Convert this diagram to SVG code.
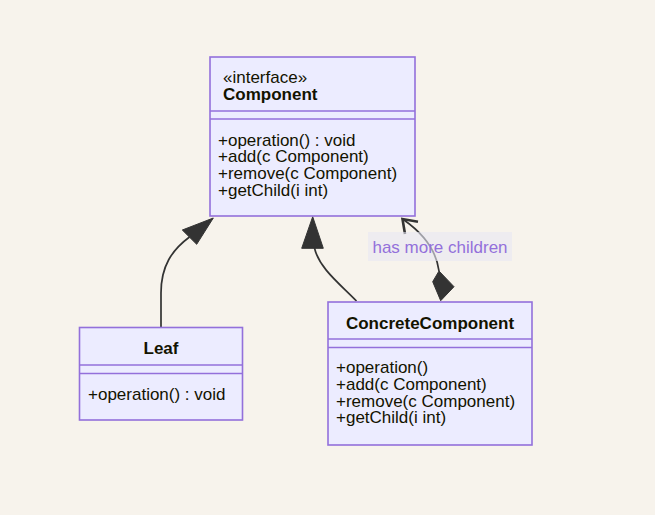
<svg xmlns="http://www.w3.org/2000/svg" width="655" height="515" viewBox="0 0 655 515">
<style>
.box{fill:#ECECFF;stroke:#9370DB;stroke-width:1.6}
.div{stroke:#9370DB;stroke-width:1.6}
text{font-family:"Liberation Sans",Arial,sans-serif;font-size:17px;fill:#131300}
.b{font-weight:bold}
.edge{fill:none;stroke:#333;stroke-width:1.7}
.head{fill:#333;stroke:#333;stroke-width:1}
.lbl{fill:#9370DB;text-anchor:middle}
</style>
<rect width="655" height="515" fill="#F7F3EC"/>
<g id="connectors">
<path class="edge" d="M161,327 L161,293 C161,266 172,250 189.5,237"/>
<polygon class="head" points="213.3,218 182.3,230 196.7,244.3"/>
<path class="edge" d="M356.5,301 C340,284 319,268 314.5,248"/>
<polygon class="head" points="312.7,216.7 301.7,248.3 323.3,248.3"/>
<path class="edge" d="M439,271 C436,248 421,232 404,220"/>
<polyline points="418,221.7 402.5,219 405,234" fill="none" stroke="#333" stroke-width="2.6" stroke-linejoin="miter"/>
<polygon class="head" points="439,271 454,286.7 440.7,300.7 432.7,281.7"/>
<rect x="368" y="232" width="144" height="29" fill="#E8E8F4" opacity="0.6"/>
<text class="lbl" x="440" y="253">has more children</text>
</g>
<g id="Component">
<rect class="box" x="210" y="57" width="205" height="159"/>
<line class="div" x1="210" y1="111" x2="415" y2="111"/>
<line class="div" x1="210" y1="119" x2="415" y2="119"/>
<text x="223" y="83">«interface»</text>
<text class="b" x="223" y="100">Component</text>
<text x="218" y="145.5">+operation() : void</text>
<text x="218" y="162.2">+add(c Component)</text>
<text x="218" y="178.9">+remove(c Component)</text>
<text x="218" y="195.6">+getChild(i int)</text>
</g>
<g id="Leaf">
<rect class="box" x="79.5" y="327.5" width="163" height="92.5"/>
<line class="div" x1="79.5" y1="365" x2="242.5" y2="365"/>
<line class="div" x1="79.5" y1="373.5" x2="242.5" y2="373.5"/>
<text class="b" x="161" y="354" text-anchor="middle">Leaf</text>
<text x="88" y="400">+operation() : void</text>
</g>
<g id="ConcreteComponent">
<rect class="box" x="328" y="302" width="204" height="143"/>
<line class="div" x1="328" y1="339" x2="532" y2="339"/>
<line class="div" x1="328" y1="347.5" x2="532" y2="347.5"/>
<text class="b" x="430" y="329" text-anchor="middle">ConcreteComponent</text>
<text x="336" y="373.3">+operation()</text>
<text x="336" y="390">+add(c Component)</text>
<text x="336" y="406.7">+remove(c Component)</text>
<text x="336" y="423.4">+getChild(i int)</text>
</g>
</svg>
